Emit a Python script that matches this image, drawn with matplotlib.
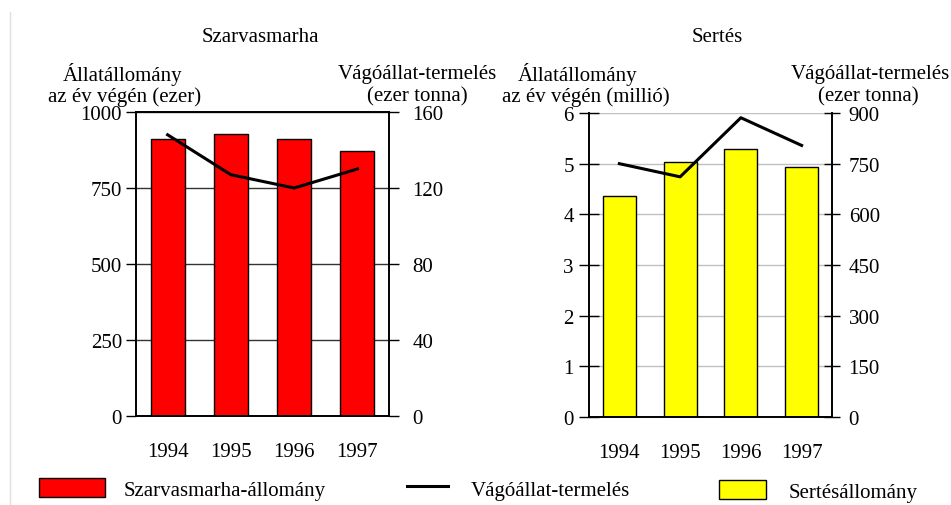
import matplotlib
matplotlib.use('Agg')
import matplotlib.pyplot as plt
from matplotlib.patches import Patch
from matplotlib.lines import Line2D

plt.rcParams['font.family'] = ['Liberation Serif', 'DejaVu Serif']
plt.rcParams['font.size'] = 15

# data
years = ['1994', '1995', '1996', '1997']
cattle_stock = [910, 928, 911, 873]        # ezer
cattle_meat = [148, 127, 120, 130]         # ezer tonna
pig_stock = [4.36, 5.03, 5.28, 4.93]       # millió
pig_meat = [750, 711, 886, 804]            # ezer tonna

W, H = 951, 506
fig = plt.figure(figsize=(W / 100, H / 100), dpi=100)


def px_axes(x0, x1, ytop, ybot):
    return fig.add_axes([x0 / W, (H - ybot) / H, (x1 - x0) / W, (ybot - ytop) / H])


def panel(ax, vals, line_vals, color, ylim, yticks, y2lim, y2ticks, grid_color, tickdir):
    x = range(len(years))
    ax.set_axisbelow(True)
    ax.bar(x, vals, width=0.54, color=color, edgecolor='black', linewidth=1, zorder=2)
    ax.set_xlim(-0.5, len(years) - 0.5)
    ax.set_ylim(*ylim)
    ax.set_yticks(yticks)
    ax.yaxis.grid(True, color=grid_color, linewidth=1)
    ax.set_xticks(list(x))
    ax.set_xticklabels(years)
    ax.tick_params(axis='x', length=0, pad=19)
    ax.tick_params(axis='y', direction=tickdir, length=7, width=1, pad=3)
    for s in ax.spines.values():
        s.set_linewidth(1.2)
    ax2 = ax.twinx()
    ax2.plot(list(x), line_vals, color='black', linewidth=2.2, zorder=3)
    ax2.set_ylim(*y2lim)
    ax2.set_yticks(y2ticks)
    ax2.tick_params(axis='y', direction=tickdir, length=7, width=1, pad=10)
    for s in ax2.spines.values():
        s.set_linewidth(1.2)
    return ax2


# Szarvasmarha
axL = px_axes(136, 389, 113, 417)
axL2 = panel(axL, cattle_stock, cattle_meat, '#ff0000', (0, 1000), [0, 250, 500, 750, 1000],
             (0, 160), [0, 40, 80, 120, 160], '#333333', 'out')

# Sertés
axR = px_axes(589, 832, 114, 418)
axR2 = panel(axR, pig_stock, pig_meat, '#ffff00', (0, 6), [0, 1, 2, 3, 4, 5, 6],
             (0, 900), [0, 150, 300, 450, 600, 750, 900], '#c0c0c0', 'inout')
axR.spines['top'].set_visible(False)
axR2.spines['top'].set_visible(False)
axR.tick_params(axis='y', length=14, pad=4)
axR2.tick_params(axis='y', length=12, pad=6)


def ftext(x, y, s, **kw):
    fig.text(x / W, 1 - y / H, s, ha='center', va='center', **kw)


ftext(260, 38, 'Szarvasmarha')
ftext(717, 38, 'Sertés')
ftext(123, 75, 'Állatállomány')
ftext(125, 97, 'az év végén (ezer)')
ftext(417, 75, 'Vágóállat-termelés')
ftext(417, 97, '(ezer tonna)')
ftext(578, 75, 'Állatállomány')
ftext(586, 97, 'az év végén (millió)')
ftext(870, 75, 'Vágóállat-termelés')
ftext(868, 97, '(ezer tonna)')

# thin frame line on the left edge
fig.add_artist(Line2D([9.5 / W, 9.5 / W], [0, 1 - 13 / H], color='#e0e0e0', linewidth=1))

# legend
handles1 = [Patch(facecolor='#ff0000', edgecolor='black', label='Szarvasmarha-állomány')]
handles2 = [Line2D([], [], color='black', linewidth=2.2, label='Vágóállat-termelés')]
handles3 = [Patch(facecolor='#ffff00', edgecolor='black', label='Sertésállomány')]
kw = dict(frameon=False, handleheight=1.0, fontsize=15, loc='center left')
fig.legend(handles=handles1, bbox_to_anchor=(20 / W, 1 - 490 / H),
           handlelength=3.2, handletextpad=0.87, **kw)
fig.legend(handles=handles2, bbox_to_anchor=(388 / W, 1 - 490 / H),
           handlelength=2.0, handletextpad=1.05, **kw)
fig.legend(handles=handles3, bbox_to_anchor=(700 / W, 1 - 492 / H),
           handlelength=2.26, handletextpad=1.1, **kw)

fig.savefig('out.png', dpi=100)
